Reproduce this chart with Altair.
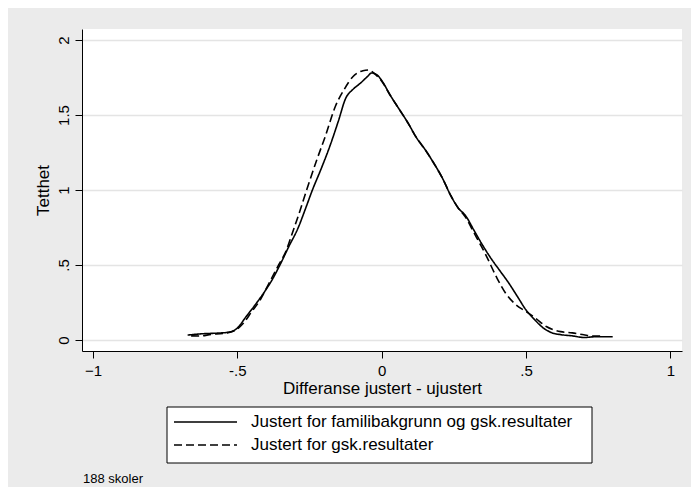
import altair as alt
import pandas as pd

solid_label = "Justert for familibakgrunn og gsk.resultater"
dashed_label = "Justert for gsk.resultater"

solid_x = [-0.672, -0.62, -0.57, -0.53, -0.50, -0.47, -0.44, -0.41, -0.38, -0.35,
           -0.32, -0.29, -0.265, -0.24, -0.21, -0.18, -0.15, -0.125, -0.10, -0.075,
           -0.05, -0.035, -0.015, 0.0, 0.03, 0.06, 0.09, 0.12, 0.15, 0.18, 0.21,
           0.24, 0.265, 0.29, 0.32, 0.35, 0.38, 0.41, 0.44, 0.47, 0.50, 0.53, 0.56,
           0.59, 0.62, 0.66, 0.70, 0.74, 0.80]
solid_y = [0.033, 0.042, 0.046, 0.052, 0.08, 0.155, 0.23, 0.31, 0.40, 0.51,
           0.63, 0.745, 0.87, 1.0, 1.14, 1.29, 1.46, 1.61, 1.67, 1.71,
           1.755, 1.78, 1.765, 1.73, 1.63, 1.54, 1.45, 1.35, 1.27, 1.18, 1.08,
           0.96, 0.88, 0.83, 0.73, 0.63, 0.54, 0.46, 0.38, 0.29, 0.20, 0.135, 0.08,
           0.048, 0.036, 0.028, 0.017, 0.022, 0.022]

dashed_x = [-0.66, -0.63, -0.59, -0.55, -0.51, -0.48, -0.45, -0.42, -0.39, -0.36,
            -0.33, -0.31, -0.285, -0.26, -0.225, -0.195, -0.16, -0.13, -0.10, -0.065,
            -0.045, -0.025, 0.0, 0.03, 0.06, 0.09, 0.12, 0.15, 0.18, 0.21, 0.24,
            0.265, 0.29, 0.31, 0.335, 0.36, 0.40, 0.43, 0.465, 0.50, 0.53, 0.57,
            0.62, 0.66, 0.70, 0.73, 0.76]
dashed_y = [0.028, 0.027, 0.038, 0.044, 0.062, 0.11, 0.19, 0.27, 0.38, 0.49,
            0.60, 0.71, 0.85, 1.0, 1.2, 1.36, 1.56, 1.67, 1.755, 1.795,
            1.80, 1.775, 1.725, 1.63, 1.54, 1.45, 1.35, 1.27, 1.18, 1.08, 0.96,
            0.88, 0.82, 0.75, 0.66, 0.57, 0.41, 0.31, 0.235, 0.19, 0.15, 0.09,
            0.056, 0.048, 0.035, 0.027, 0.026]

x_ticks = [-1, -0.5, 0, 0.5, 1]
y_ticks = [0, 0.5, 1, 1.5, 2]
x_title = "Differanse justert - ujustert"
y_title = "Tetthet"
note_text = "188 skoler"

FONT = "Liberation Sans"
DASH_SOLID = [1, 0]
DASH_DASHED = [8, 4]

df = pd.concat([
    pd.DataFrame({"x": solid_x, "y": solid_y, "serie": solid_label, "i": range(len(solid_x))}),
    pd.DataFrame({"x": dashed_x, "y": dashed_y, "serie": dashed_label, "i": range(len(dashed_x))}),
])

lines = alt.Chart(df).mark_line(color="black", strokeWidth=1.6, interpolate="monotone").encode(
    x=alt.X("x:Q",
            scale=alt.Scale(domain=[-1.038, 1.04], nice=False, zero=False),
            axis=alt.Axis(values=x_ticks, title=x_title, grid=False,
                          labelExpr="datum.value == 0.5 ? '.5' : datum.value == -0.5 ? '-.5' : format(datum.value, 'd')",
                          labelPadding=5, titlePadding=2, labelFlush=False)),
    y=alt.Y("y:Q",
            scale=alt.Scale(domain=[-0.073, 2.073], nice=False, zero=False),
            axis=alt.Axis(values=y_ticks, title=y_title, grid=True, labelAngle=-90,
                          labelExpr="datum.value == 0.5 ? '.5' : datum.value == 1.5 ? '1.5' : format(datum.value, 'd')",
                          labelPadding=4, titlePadding=4, labelFlush=False)),
    strokeDash=alt.StrokeDash("serie:N",
                              scale=alt.Scale(domain=[solid_label, dashed_label],
                                              range=[DASH_SOLID, DASH_DASHED]),
                              legend=None),
    order="i:Q",
)

# legend box (Stata style, below the plot)
legend_box = alt.Chart(pd.DataFrame({"k": [0]})).mark_rect(
    fill="white", stroke="black", strokeWidth=1
).encode(x=alt.value(85), x2=alt.value(510), y=alt.value(378), y2=alt.value(434))

def legend_row(label, dash, ypix):
    sym = alt.Chart(pd.DataFrame({"serie": [label]})).mark_rule(
        color="black", strokeWidth=1.6, strokeDash=dash
    ).encode(x=alt.value(92), x2=alt.value(155), y=alt.value(ypix))
    txt = alt.Chart(pd.DataFrame({"serie": [label]})).mark_text(
        align="left", baseline="middle", fontSize=17, font=FONT, color="black"
    ).encode(x=alt.value(169), y=alt.value(ypix), text="serie:N")
    return [sym, txt]

note = alt.Chart(pd.DataFrame({"note": [note_text]})).mark_text(
    align="left", baseline="alphabetic", fontSize=13, font=FONT, color="black"
).encode(x=alt.value(1), y=alt.value(454), text="note:N")

layers = [lines, legend_box] + legend_row(solid_label, DASH_SOLID, 393) + \
    legend_row(dashed_label, DASH_DASHED, 416) + [note]

chart = alt.layer(*layers).properties(
    width=600, height=322,
    autosize=alt.AutoSizeParams(type="none"),
    padding={"left": 74, "top": 21, "right": 9, "bottom": 136},
    background="#ebebeb",
).configure_view(fill="white", strokeWidth=0).configure_axis(
    labelFont=FONT, titleFont=FONT, labelFontSize=15, titleFontSize=17,
    labelColor="black", titleColor="black", titleFontWeight="normal",
    domainColor="black", domainWidth=1, tickColor="black", tickSize=7, tickWidth=1,
    gridColor="#e4e4e4", gridWidth=1.5,
)

chart.save("out.html", embed_options={"renderer": "svg", "actions": False})
